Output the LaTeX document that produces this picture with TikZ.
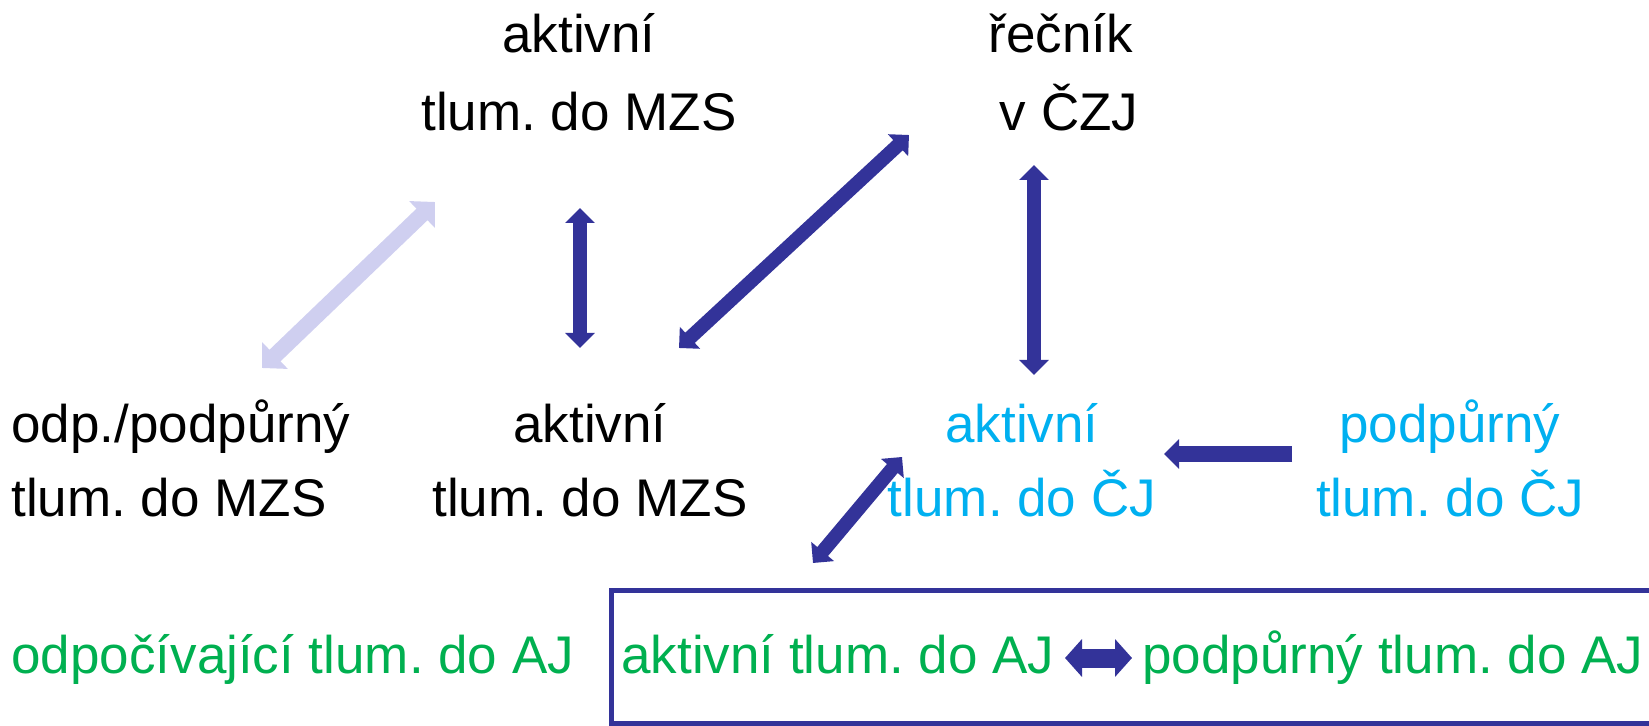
\documentclass[tikz,border=0pt]{standalone}
\usepackage{fontspec}
\setmainfont{Liberation Sans}
\usetikzlibrary{arrows.meta}
\definecolor{arrowblue}{RGB}{51,51,153}
\definecolor{paleblue}{RGB}{207,207,240}
\definecolor{czjblue}{RGB}{0,176,240}
\definecolor{ajgreen}{RGB}{0,176,80}
\frenchspacing
% two stacked lines, first baseline is the node baseline
\newcommand{\twolines}[3]{\begin{tabular}[t]{@{}#1@{}}#2\\#3\end{tabular}}
\begin{document}
\begin{tikzpicture}[x=0.5pt,y=-0.5pt,
  toprow/.style={inner sep=0pt, anchor=base, font=\fontsize{26.5}{39}\selectfont},
  midrow/.style={inner sep=0pt, font=\fontsize{26.5}{37}\selectfont},
  ajtext/.style={inner sep=0pt, anchor=base west, text=ajgreen, font=\fontsize{26.5}{32}\selectfont},
  link/.style={draw=arrowblue, line width=7pt, >={Triangle[length=7.5pt,width=14.5pt]}, <->},
  paleLink/.style={draw=paleblue, line width=8pt, >={Triangle[length=9pt,width=18pt]}, <->},
  oneway/.style={draw=arrowblue, line width=8pt, >={Triangle[length=7.5pt,width=14.5pt]}, ->},
  boxLink/.style={draw=arrowblue, line width=9.5pt, >={Triangle[length=8.5pt,width=18.5pt]}, <->},
  frame/.style={draw=arrowblue, line width=2.5pt}]
\clip (0,0) rectangle (1649,726);

% top row
\node[toprow] (mzsTop) at (579,53) {\twolines{c}{aktivní}{tlum. do MZS}};
\node[toprow] (speaker) at (1061,53) {\twolines{c}{řečník}{\hspace*{8pt}v ČZJ}};

% middle row
\node[midrow, anchor=base west] (mzsSupport) at (11,443) {\twolines{l}{odp./podpůrný}{tlum. do MZS}};
\node[midrow, anchor=base] (mzsActive) at (590,443) {\twolines{c}{aktivní}{tlum. do MZS}};
\node[midrow, anchor=base, text=czjblue] (czjActive) at (1022,443) {\twolines{c}{aktivní}{tlum. do ČJ}};
\node[midrow, anchor=base, text=czjblue] (czjSupport) at (1450,443) {\twolines{c}{podpůrný}{tlum. do ČJ}};

% bottom row
\node[ajtext] (ajRest) at (11,673) {odpočívající tlum. do AJ};
\node[ajtext] (ajActive) at (621,673) {aktivní tlum. do AJ};
\node[ajtext] (ajSupport) at (1142,673) {podpůrný tlum. do AJ};
\draw[frame] (611,590.5) rectangle (1700,723.5);

% connectors
\draw[paleLink] ([shift={(251,-75)}]mzsSupport.base west) -- ([shift={(-144,149)}]mzsTop.base);
\draw[link] ([shift={(1,155)}]mzsTop.base) -- ([shift={(-10,-95)}]mzsActive.base);
\draw[link] ([shift={(89,-95)}]mzsActive.base) -- ([shift={(-152,82)}]speaker.base);
\draw[link] ([shift={(-27,112)}]speaker.base) -- ([shift={(12,-68)}]czjActive.base);
\draw[oneway] ([shift={(-158,11)}]czjSupport.base) -- ([shift={(142,11)}]czjActive.base);
\draw[link] ([shift={(-120,14)}]czjActive.base) -- ([shift={(192,-110)}]ajActive.base west);
\draw[boxLink] ([shift={(444,-15)}]ajActive.base west) -- ([shift={(-10,-15)}]ajSupport.base west);
\end{tikzpicture}
\end{document}
